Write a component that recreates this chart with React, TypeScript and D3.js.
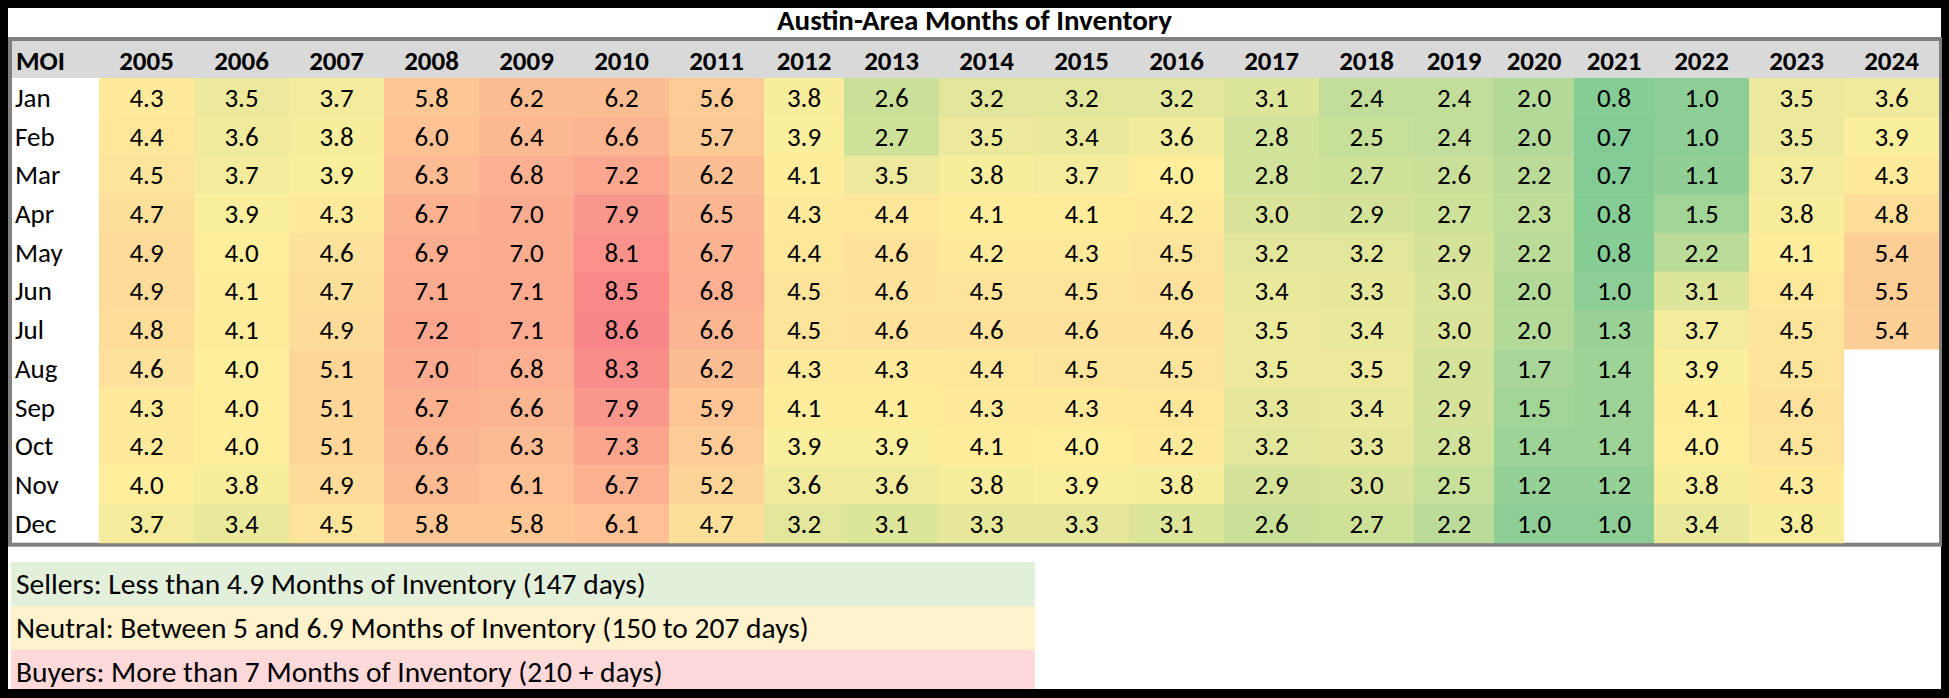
import React, { useMemo } from "react";
import * as d3 from "d3";

// ---------- DATA ----------
const title = "Austin-Area Months of Inventory";
const cornerLabel = "MOI";
const months = ["Jan", "Feb", "Mar", "Apr", "May", "Jun", "Jul", "Aug", "Sep", "Oct", "Nov", "Dec"];
const years = [2005, 2006, 2007, 2008, 2009, 2010, 2011, 2012, 2013, 2014, 2015, 2016, 2017, 2018, 2019, 2020, 2021, 2022, 2023, 2024];

const v2005 = [4.3, 4.4, 4.5, 4.7, 4.9, 4.9, 4.8, 4.6, 4.3, 4.2, 4.0, 3.7];
const v2006 = [3.5, 3.6, 3.7, 3.9, 4.0, 4.1, 4.1, 4.0, 4.0, 4.0, 3.8, 3.4];
const v2007 = [3.7, 3.8, 3.9, 4.3, 4.6, 4.7, 4.9, 5.1, 5.1, 5.1, 4.9, 4.5];
const v2008 = [5.8, 6.0, 6.3, 6.7, 6.9, 7.1, 7.2, 7.0, 6.7, 6.6, 6.3, 5.8];
const v2009 = [6.2, 6.4, 6.8, 7.0, 7.0, 7.1, 7.1, 6.8, 6.6, 6.3, 6.1, 5.8];
const v2010 = [6.2, 6.6, 7.2, 7.9, 8.1, 8.5, 8.6, 8.3, 7.9, 7.3, 6.7, 6.1];
const v2011 = [5.6, 5.7, 6.2, 6.5, 6.7, 6.8, 6.6, 6.2, 5.9, 5.6, 5.2, 4.7];
const v2012 = [3.8, 3.9, 4.1, 4.3, 4.4, 4.5, 4.5, 4.3, 4.1, 3.9, 3.6, 3.2];
const v2013 = [2.6, 2.7, 3.5, 4.4, 4.6, 4.6, 4.6, 4.3, 4.1, 3.9, 3.6, 3.1];
const v2014 = [3.2, 3.5, 3.8, 4.1, 4.2, 4.5, 4.6, 4.4, 4.3, 4.1, 3.8, 3.3];
const v2015 = [3.2, 3.4, 3.7, 4.1, 4.3, 4.5, 4.6, 4.5, 4.3, 4.0, 3.9, 3.3];
const v2016 = [3.2, 3.6, 4.0, 4.2, 4.5, 4.6, 4.6, 4.5, 4.4, 4.2, 3.8, 3.1];
const v2017 = [3.1, 2.8, 2.8, 3.0, 3.2, 3.4, 3.5, 3.5, 3.3, 3.2, 2.9, 2.6];
const v2018 = [2.4, 2.5, 2.7, 2.9, 3.2, 3.3, 3.4, 3.5, 3.4, 3.3, 3.0, 2.7];
const v2019 = [2.4, 2.4, 2.6, 2.7, 2.9, 3.0, 3.0, 2.9, 2.9, 2.8, 2.5, 2.2];
const v2020 = [2.0, 2.0, 2.2, 2.3, 2.2, 2.0, 2.0, 1.7, 1.5, 1.4, 1.2, 1.0];
const v2021 = [0.8, 0.7, 0.7, 0.8, 0.8, 1.0, 1.3, 1.4, 1.4, 1.4, 1.2, 1.0];
const v2022 = [1.0, 1.0, 1.1, 1.5, 2.2, 3.1, 3.7, 3.9, 4.1, 4.0, 3.8, 3.4];
const v2023 = [3.5, 3.5, 3.7, 3.8, 4.1, 4.4, 4.5, 4.5, 4.6, 4.5, 4.3, 3.8];
const v2024 = [3.6, 3.9, 4.3, 4.8, 5.4, 5.5, 5.4];

const series = [v2005, v2006, v2007, v2008, v2009, v2010, v2011, v2012, v2013, v2014, v2015, v2016, v2017, v2018, v2019, v2020, v2021, v2022, v2023, v2024];

const legendLabels = [
  "Sellers: Less than 4.9 Months of Inventory (147 days)",
  "Neutral: Between 5 and 6.9 Months of Inventory (150 to 207 days)",
  "Buyers: More than 7 Months of Inventory (210 + days)",
];

// ---------- LAYOUT / STYLE ----------
const W = 1949;
const H = 698;
const FONT = "Calibri, Carlito, Lato, sans-serif";
const narrowYears = [2012, 2019, 2020, 2021];
const WIDE = 95;
const NARROW = 80;
const FIRST_COL = 87;
const tableLeft = 12;
const headerTop = 41;
const headerBottom = 78;
const tableBottom = 542.7;
const legendColors = ["#E2EFDA", "#FFF2CC", "#FFD9D9"];
const CELL_FS = 27;
const HEAD_FS = 27;
const LEGEND_FS = 29.5;
const TITLE_FS = 29;

export default function App() {
  const colX = useMemo(() => {
    const xs: { x: number; w: number }[] = [];
    let x = tableLeft + FIRST_COL;
    years.forEach((y) => {
      const w = narrowYears.includes(y) ? NARROW : WIDE;
      xs.push({ x, w });
      x += w;
    });
    return xs;
  }, []);
  const tableRight = colX[colX.length - 1].x + colX[colX.length - 1].w;

  const yScale = d3.scaleBand<string>().domain(months).range([headerBottom, tableBottom]);

  const all = series.flat();
  const vMin = d3.min(all) as number;
  const vMax = d3.max(all) as number;
  const vMid = d3.median(all) as number;
  const base = d3
    .scaleLinear<string>()
    .domain([vMin, vMid, vMax])
    .range(["#63BE7B", "#FFEB84", "#F8696B"])
    .interpolate(d3.interpolateRgb);
  const lighten = (c: string) => d3.interpolateRgb(c, "#FFFFFF")(0.2);
  const color = (v: number) => lighten(base(v));

  const legendTop = 562;
  const legendRowH = 44;
  const legendRight = 1035;

  return (
    <svg
      width={W}
      height={H}
      viewBox={`0 0 ${W} ${H}`}
      style={{ position: "absolute", left: 0, top: 0, display: "block" }}
      fontFamily={FONT}
    >
      <rect x={0} y={0} width={W} height={H} fill="#000000" />
      <rect x={8} y={8} width={1933} height={681} fill="#FFFFFF" />

      <text x={974.5} y={30} textAnchor="middle" fontWeight="bold" fontSize={TITLE_FS} fill="#000">
        {title}
      </text>

      {/* table frame */}
      <rect x={8} y={37} width={tableRight + 3 - 8} height={tableBottom + 4 - 37} fill="#808080" />
      <rect x={tableLeft} y={headerTop} width={tableRight - tableLeft} height={headerBottom - headerTop} fill="#D9D9D9" />
      <rect x={tableLeft} y={headerBottom} width={tableRight - tableLeft} height={tableBottom - headerBottom} fill="#FFFFFF" />

      {/* header */}
      <text x={16} y={69.5} fontWeight="bold" fontSize={HEAD_FS} fill="#000">
        {cornerLabel}
      </text>
      {years.map((yr, i) => (
        <text
          key={yr}
          x={colX[i].x + colX[i].w / 2}
          y={69.5}
          textAnchor="middle"
          fontWeight="bold"
          fontSize={HEAD_FS}
          fill="#000"
        >
          {yr}
        </text>
      ))}

      {/* month labels */}
      {months.map((m) => (
        <text key={m} x={15} y={(yScale(m) as number) + yScale.bandwidth() / 2 + 9.5} fontSize={CELL_FS} fill="#000">
          {m}
        </text>
      ))}

      {/* cells */}
      {series.map((vals, i) =>
        vals.map((v, j) => {
          const y0 = yScale(months[j]) as number;
          return (
            <g key={`${i}-${j}`}>
              <rect x={colX[i].x} y={y0} width={colX[i].w} height={yScale.bandwidth() + 0.5} fill={color(v)} />
              <text
                x={colX[i].x + colX[i].w / 2}
                y={y0 + yScale.bandwidth() / 2 + 9.5}
                textAnchor="middle"
                fontSize={CELL_FS}
                fill="#000"
              >
                {v.toFixed(1)}
              </text>
            </g>
          );
        })
      )}

      {/* legend */}
      {legendLabels.map((lab, i) => (
        <g key={lab}>
          <rect
            x={11}
            y={legendTop + i * legendRowH}
            width={legendRight - 11}
            height={i === legendLabels.length - 1 ? 689 - (legendTop + i * legendRowH) : legendRowH}
            fill={legendColors[i]}
          />
          <text x={16} y={legendTop + i * legendRowH + 32} fontSize={LEGEND_FS} fill="#000">
            {lab}
          </text>
        </g>
      ))}
    </svg>
  );
}
